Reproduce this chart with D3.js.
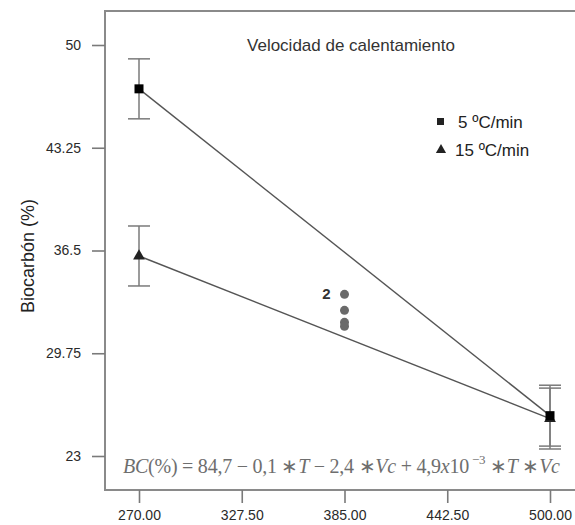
<!DOCTYPE html>
<html>
<head>
<meta charset="utf-8">
<script src="https://cdn.jsdelivr.net/npm/d3@7"></script>
<style>
  body { margin: 0; background: #fff; }
  svg { display: block; font-family: "Liberation Sans", Arial, sans-serif; }
</style>
</head>
<body>
<div id="chart-area"></div>
<script>
// temperatura (x) y biocarbón (%) por velocidad de calentamiento
var temps = [270, 500];
var bc5 = [47.12, 25.65];
var err5 = [1.97, 2.0];
var bc15 = [36.14, 25.46];
var err15 = [1.97, 2.0];
var centerT = 385;
var centerBC = [33.62, 32.57, 31.78, 31.52];
var xTicks = [270, 327.5, 385, 442.5, 500];
var yTicks = [23, 29.75, 36.5, 43.25, 50];

var W = 575, H = 525;
var plotLeft = 105, plotTop = 11, plotBottom = 490;

var svg = d3.select("#chart-area").append("svg")
    .attr("width", W)
    .attr("height", H);

const x = d3.scaleLinear().domain([270, 500]).range([139, 550]);
const y = d3.scaleLinear().domain([23, 50]).range([456, 45]);

// frame
svg.append("path")
    .attr("d", `M${W},${plotTop}H${plotLeft}V${plotBottom}H${W}`)
    .attr("fill", "none")
    .attr("stroke", "#8a8a8a")
    .attr("stroke-width", 2);

var xAxis = svg.append("g")
    .attr("transform", `translate(0,${plotBottom})`)
    .call(d3.axisBottom(x).tickValues(xTicks).tickFormat(d3.format(".2f")).tickSize(13).tickPadding(7));
var yAxis = svg.append("g")
    .attr("transform", `translate(${plotLeft},0)`)
    .call(d3.axisLeft(y).tickValues(yTicks).tickFormat(d => d).tickSize(13).tickPadding(11));

[xAxis, yAxis].forEach(g => {
    g.select(".domain").remove();
    g.selectAll(".tick line").attr("stroke", "#7a7a7a").attr("stroke-width", 1.6);
    g.selectAll(".tick text").attr("fill", "#2a2a2a").style("font-size", "14px")
        .style("font-family", "'Liberation Sans', Arial, sans-serif");
});

svg.append("text")
    .attr("transform", "translate(34,256) rotate(-90)")
    .attr("text-anchor", "middle")
    .attr("fill", "#222")
    .style("font-size", "18px")
    .text("Biocarbón (%)");

svg.append("text")
    .attr("x", 351).attr("y", 51)
    .attr("text-anchor", "middle")
    .attr("fill", "#333")
    .style("font-size", "17px")
    .text("Velocidad de calentamiento");

// lines
var line = d3.line().x((d, i) => x(temps[i])).y(d => y(d));
svg.append("path").datum(bc5).attr("d", line)
    .attr("fill", "none").attr("stroke", "#555").attr("stroke-width", 1.4);
svg.append("path").datum(bc15).attr("d", line)
    .attr("fill", "none").attr("stroke", "#555").attr("stroke-width", 1.4);

// error bars
function errBars(vals, errs) {
    var g = svg.append("g").attr("stroke", "#7a7a7a").attr("stroke-width", 1.5);
    vals.forEach((v, i) => {
        var cx = x(temps[i]);
        g.append("line").attr("x1", cx).attr("x2", cx).attr("y1", y(v + errs[i])).attr("y2", y(v - errs[i]));
        [v + errs[i], v - errs[i]].forEach(e => {
            g.append("line").attr("x1", cx - 11).attr("x2", cx + 11).attr("y1", y(e)).attr("y2", y(e));
        });
    });
}
errBars(bc5, err5);
errBars(bc15, err15);

// markers
var tri = d3.symbol().type(d3.symbolTriangle).size(60);
svg.selectAll(".tri").data(bc15).enter().append("path")
    .attr("transform", (d, i) => `translate(${x(temps[i])},${y(d)})`)
    .attr("d", tri)
    .attr("fill", "#222");
svg.selectAll(".sq").data(bc5).enter().append("rect")
    .attr("x", (d, i) => x(temps[i]) - 4.5)
    .attr("y", d => y(d) - 4.5)
    .attr("width", 9).attr("height", 9)
    .attr("fill", "#000");

svg.selectAll(".cp").data(centerBC).enter().append("circle")
    .attr("cx", x(centerT))
    .attr("cy", d => y(d))
    .attr("r", 4.5)
    .attr("fill", "#6a6a6a");
svg.append("text")
    .attr("x", x(centerT) - 18).attr("y", y(centerBC[0]) + 5)
    .attr("text-anchor", "middle")
    .attr("fill", "#333")
    .style("font-size", "15px").style("font-weight", "bold")
    .text("2");

// legend
var lg = svg.append("g").attr("fill", "#222");
lg.append("rect").attr("x", 437).attr("y", 118).attr("width", 7).attr("height", 7);
lg.append("text").attr("x", 458).attr("y", 128).style("font-size", "17px").text("5 ºC/min");
lg.append("path").attr("transform", "translate(441,150)").attr("d", d3.symbol().type(d3.symbolTriangle).size(45));
lg.append("text").attr("x", 455).attr("y", 156).style("font-size", "17px").text("15 ºC/min");

// equation
var eq = svg.append("text")
    .attr("x", 123).attr("y", 473)
    .attr("fill", "#6e6e6e")
    .style("font-family", "'Liberation Serif', 'Times New Roman', serif")
    .style("font-size", "20px");
var parts = [
    ["BC", true], ["(%) = 84,7 − 0,1 ∗", false], ["T", true], [" − 2,4 ∗", false], ["Vc", true],
    [" + 4,9", false], ["x", true], ["10", false]
];
parts.forEach(p => eq.append("tspan").style("font-style", p[1] ? "italic" : "normal").text(p[0]));
eq.append("tspan").attr("dy", -9).style("font-size", "13px").text(" −3");
eq.append("tspan").attr("dy", 9).text(" ∗");
eq.append("tspan").style("font-style", "italic").text("T");
eq.append("tspan").text(" ∗");
eq.append("tspan").style("font-style", "italic").text("Vc");
eq.attr("textLength", 437).attr("lengthAdjust", "spacing");
</script>
</body>
</html>
